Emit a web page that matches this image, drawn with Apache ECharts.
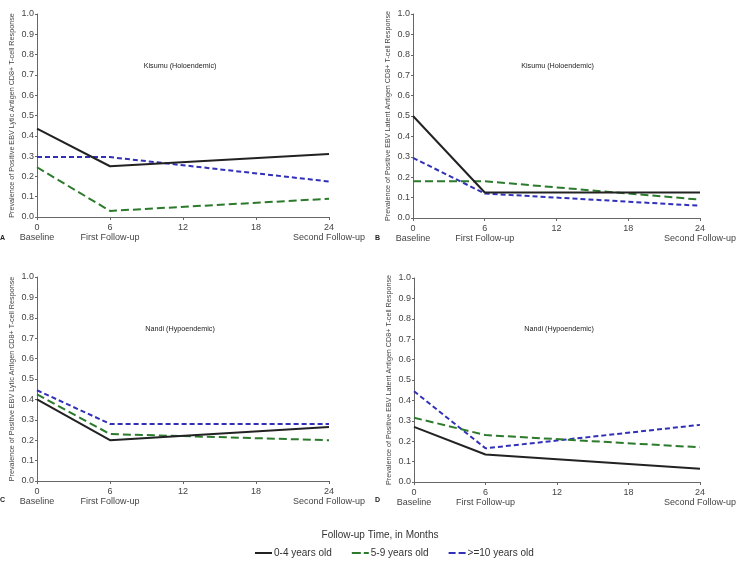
<!DOCTYPE html>
<html>
<head>
<meta charset="utf-8">
<title>EBV CD8+ T-cell response</title>
<script src="https://cdn.jsdelivr.net/npm/echarts@6/dist/echarts.min.js"></script>
<style>
  html, body { margin: 0; padding: 0; background: #fff; }
  #chart { width: 739px; height: 563px; }
</style>
</head>
<body>
<div id="chart"></div>
<script>
// follow-up months
const months = [0, 6, 24]
const xTickNames = { 0: 'Baseline', 6: 'First Follow-up', 24: 'Second Follow-up' }

const groupNames = ['0-4 years old', '5-9 years old', '>=10 years old']

// A: Kisumu, lytic
const kisumuLytic04 = [0.435, 0.25, 0.31]
const kisumuLytic59 = [0.245, 0.03, 0.09]
const kisumuLytic10 = [0.295, 0.295, 0.175]
// B: Kisumu, latent
const kisumuLatent04 = [0.50, 0.125, 0.125]
const kisumuLatent59 = [0.18, 0.18, 0.09]
const kisumuLatent10 = [0.295, 0.12, 0.06]
// C: Nandi, lytic
const nandiLytic04 = [0.40, 0.20, 0.265]
const nandiLytic59 = [0.425, 0.23, 0.20]
const nandiLytic10 = [0.445, 0.28, 0.28]
// D: Nandi, latent
const nandiLatent04 = [0.27, 0.135, 0.065]
const nandiLatent59 = [0.315, 0.23, 0.17]
const nandiLatent10 = [0.445, 0.165, 0.28]

const panels = [
  { letter: 'A', site: 'Kisumu (Holoendemic)', antigen: 'Lytic', data: [kisumuLytic04, kisumuLytic59, kisumuLytic10] },
  { letter: 'B', site: 'Kisumu (Holoendemic)', antigen: 'Latent', data: [kisumuLatent04, kisumuLatent59, kisumuLatent10] },
  { letter: 'C', site: 'Nandi (Hypoendemic)', antigen: 'Lytic', data: [nandiLytic04, nandiLytic59, nandiLytic10] },
  { letter: 'D', site: 'Nandi (Hypoendemic)', antigen: 'Latent', data: [nandiLatent04, nandiLatent59, nandiLatent10] }
]

const grids = [
  { left: 37, top: 14, width: 292, height: 203 },
  { left: 413, top: 14, width: 295, height: 204 },
  { left: 37, top: 277, width: 292, height: 204 },
  { left: 414, top: 278, width: 296, height: 204 }
]

const lineStyles = [
  { color: '#222222', width: 2, type: 'solid' },
  { color: '#2c7a2c', width: 2, type: [8, 4] },
  { color: '#3030b8', width: 2, type: [5, 3] }
]

// legend glyphs: solid, long dash + short dash, two short dashes
const legendIcons = [
  'path://M0,0h17v2h-17z',
  'path://M0,0h9v2h-9zM12,0h5v2h-5z',
  'path://M0,0h7v2h-7zM10,0h7v2h-7z'
]

const font = 'Liberation Sans, Arial, sans-serif'
const axisColor = '#666'

const xAxis = []
const yAxis = []
const series = []
const titles = []

panels.forEach((p, i) => {
  const g = grids[i]
  xAxis.push({
    type: 'value',
    gridIndex: i,
    min: 0,
    max: 24,
    interval: 6,
    splitLine: { show: false },
    axisLine: { lineStyle: { color: axisColor, width: 1 } },
    axisTick: { length: 3, lineStyle: { color: axisColor } },
    axisLabel: {
      margin: 6,
      fontFamily: font,
      fontSize: 9,
      color: '#444',
      lineHeight: 10,
      formatter: v => xTickNames[v] !== undefined ? v + '\n' + xTickNames[v] : String(v)
    }
  })
  yAxis.push({
    type: 'value',
    gridIndex: i,
    min: 0,
    max: 1,
    interval: 0.1,
    splitLine: { show: false },
    axisLine: { show: true, lineStyle: { color: axisColor, width: 1 } },
    axisTick: { show: true, length: 2, lineStyle: { color: axisColor } },
    axisLabel: {
      margin: 3,
      fontFamily: font,
      fontSize: 9,
      color: '#444',
      formatter: v => v.toFixed(1)
    },
    name: 'Prevalence of Positive EBV ' + p.antigen + ' Antigen CD8+ T-cell Response',
    nameLocation: 'middle',
    nameGap: 21,
    nameTextStyle: { fontFamily: font, fontSize: 7.2, color: '#444' }
  })
  p.data.forEach((vals, k) => {
    series.push({
      name: groupNames[k],
      type: 'line',
      xAxisIndex: i,
      yAxisIndex: i,
      data: months.map((m, j) => [m, vals[j]]),
      symbol: 'none',
      lineStyle: lineStyles[k],
      itemStyle: { color: lineStyles[k].color },
      z: 3 - k
    })
  })
  titles.push({
    text: p.site,
    left: g.left + g.width * 0.49,
    top: i < 2 ? 63 : 326,
    padding: 0,
    textAlign: 'center',
    textStyle: { fontFamily: font, fontSize: 7.2, fontWeight: 'normal', color: '#222' }
  })
  titles.push({
    text: p.letter,
    left: i % 2 === 0 ? 0 : 375,
    top: i < 2 ? 235 : 497,
    padding: 0,
    textStyle: { fontFamily: font, fontSize: 7, fontWeight: 'bold', color: '#222' }
  })
})

titles.push({
  text: 'Follow-up Time, in Months',
  left: 380,
  top: 530,
  padding: 0,
  textAlign: 'center',
  textStyle: { fontFamily: font, fontSize: 10, fontWeight: 'normal', color: '#333' }
})

const chart = echarts.init(document.getElementById('chart'))
chart.setOption({
  animation: false,
  backgroundColor: '#fff',
  title: titles,
  legend: {
    data: groupNames.map((n, k) => ({ name: n, icon: legendIcons[k] })),
    left: 255,
    top: 548,
    padding: 0,
    itemWidth: 17,
    itemHeight: 2,
    itemGap: 20,
    textStyle: { fontFamily: font, fontSize: 10, color: '#333', padding: [0, 0, 0, -3] }
  },
  grid: grids,
  xAxis,
  yAxis,
  series
})
</script>
</body>
</html>
